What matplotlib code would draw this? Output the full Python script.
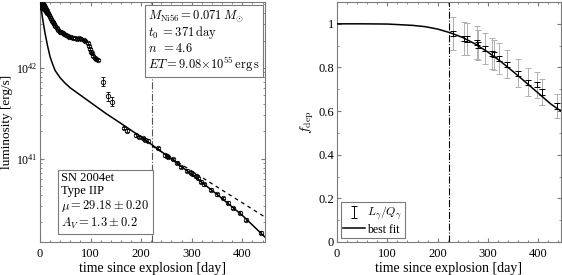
import numpy as np
import matplotlib
matplotlib.use('Agg')
import matplotlib.pyplot as plt

plt.rcParams['font.family'] = ['Liberation Serif', 'DejaVu Serif']
plt.rcParams['mathtext.fontset'] = 'cm'
plt.rcParams['font.size'] = 9

# observed bolometric light curve (day, log10 L)
obs_day = [2, 3, 4, 5, 6, 7, 8, 9, 10, 11, 12, 13, 14, 16, 18, 20, 22, 24, 26, 28,
           30, 33, 36, 39, 42, 45, 48, 52, 55, 58, 62, 66, 70, 74, 78, 82, 86, 89,
           95, 97, 99, 101, 103, 105, 108, 111, 114,
           125, 135, 143,
           167, 172, 189, 195, 203, 208, 213, 233, 248, 252, 254, 262, 270, 278,
           290, 298, 303, 308, 312, 318, 325, 338, 350, 362, 372, 382, 395, 408, 437]
obs_logL = [42.70, 42.66, 42.72, 42.68, 42.70, 42.65, 42.69, 42.64, 42.67, 42.62,
            42.65, 42.60, 42.63, 42.60, 42.58, 42.56, 42.54, 42.52, 42.50, 42.48,
            42.46, 42.44, 42.42, 42.40, 42.39, 42.38, 42.37, 42.36, 42.35, 42.34,
            42.34, 42.33, 42.33, 42.32, 42.33, 42.32, 42.31, 42.30,
            42.27, 42.24, 42.21, 42.18, 42.16, 42.13, 42.11, 42.10, 42.09,
            41.85, 41.69, 41.63,
            41.34, 41.31, 41.26, 41.24, 41.23, 41.21, 41.20, 41.12, 41.04, 41.03,
            41.02, 41.00, 40.96, 40.91, 40.87, 40.85, 40.83, 40.81, 40.79, 40.75,
            40.72, 40.66, 40.61, 40.57, 40.52, 40.46, 40.41, 40.33, 40.19]
obs_err = [0.012] * 47 + [0.05, 0.05, 0.05] + [0.015] * 29

# model light curve (best fit) and full trapping
model_day = [0, 3, 6, 10, 15, 20, 25, 30, 40, 50, 60, 80, 100, 130, 160, 200,
             250, 300, 350, 400, 445]
model_logL = [42.74, 42.62, 42.51, 42.38, 42.24, 42.12, 42.04, 41.97, 41.89, 41.83,
              41.78, 41.70, 41.62, 41.50, 41.39, 41.24, 41.04, 40.83, 40.61, 40.38,
              40.14]
trap_day = [222, 445]
trap_logL = [41.14, 40.36]

t_cut = 222

# deposition fraction
dep_day = [230, 252, 259, 278, 281, 294, 307, 311, 321, 337, 360, 379, 397, 407, 437]
dep_f = [0.956, 0.933, 0.930, 0.915, 0.903, 0.888, 0.865, 0.858, 0.840, 0.815,
         0.774, 0.732, 0.721, 0.688, 0.623]
dep_err = [0.012] * 15
dep_err_sys = [0.075, 0.075, 0.075, 0.075, 0.07, 0.07, 0.07, 0.07, 0.07, 0.065,
               0.065, 0.065, 0.06, 0.06, 0.055]

fit_day = [0, 50, 100, 150, 175, 200, 225, 250, 275, 300, 325, 350, 375, 400, 425, 445]
fit_f = [1.0, 1.0, 0.999, 0.993, 0.987, 0.976, 0.959, 0.937, 0.907, 0.870, 0.828,
         0.781, 0.732, 0.682, 0.632, 0.600]

grey = '#7a7a7a'
fig = plt.figure(figsize=(5.62, 2.75), dpi=100)
ax1 = fig.add_axes([0.0712, 0.12, 0.4004, 0.8727])
ax2 = fig.add_axes([0.5996, 0.12, 0.3986, 0.8727])

for ax in (ax1, ax2):
    for s in ax.spines.values():
        s.set_color(grey)
        s.set_linewidth(0.8)
    ax.tick_params(which='both', direction='in', top=True, right=True, color=grey,
                   labelsize=9)
    ax.tick_params(axis='y', pad=2)
    ax.tick_params(axis='x', pad=4)
    ax.tick_params(which='major', length=3)
    ax.tick_params(which='minor', length=1.5)
    ax.set_xlim(0, 445)
    ax.set_xticks([0, 100, 200, 300, 400])
    ax.set_xlabel('time since explosion [day]', fontsize=10, labelpad=2)

# left panel
L = 10 ** np.array(obs_logL)
lo = L - 10 ** (np.array(obs_logL) - np.array(obs_err))
hi = 10 ** (np.array(obs_logL) + np.array(obs_err)) - L
ax1.errorbar(obs_day, L, yerr=[lo, hi], fmt='o', mfc='none', mec='k', ecolor='k',
             ms=3.2, mew=0.6, elinewidth=0.6, capsize=1.5, capthick=0.6, zorder=3)
ax1.plot(model_day, 10 ** np.array(model_logL), 'k-', lw=1.1, zorder=4)
ax1.plot(trap_day, 10 ** np.array(trap_logL), 'k--', lw=0.9, dashes=(3, 3), zorder=4)
ax1.axvline(t_cut, color='#555555', ls='-.', lw=0.8)
ax1.set_yscale('log')
ax1.set_ylim(1.22e40, 5.3e42)
ax1.set_yticks([1e41, 1e42])
ax1.tick_params(axis='y', labelsize=8.5, pad=1.5)
ax1.set_ylabel('luminosity [erg/s]', fontsize=9.5, labelpad=0)
ax1.yaxis.set_label_coords(-0.118, 0.5)
ax1.minorticks_on()
ax1.xaxis.set_minor_locator(matplotlib.ticker.MultipleLocator(20))

txt1 = '\n'.join([r'$M_{\rm Ni56} = 0.071\,M_{\odot}$',
                  r'$t_0\;=371\,{\rm day}$',
                  r'$n\;\;=4.6$',
                  r'$ET=9.08{\times}10^{55}\,{\rm erg\,s}$'])
ax1.text(0.48, 0.975, txt1, transform=ax1.transAxes, va='top', ha='left', fontsize=9,
         linespacing=1.05,
         bbox=dict(boxstyle='square,pad=0.25', fc='white', ec=grey, lw=0.8))
txt2 = '\n'.join([r'SN 2004et', r'Type IIP',
                  r'$\mu=29.18\pm0.20$', r'$A_V=1.3\pm0.2$'])
ax1.text(0.095, 0.29, txt2, transform=ax1.transAxes, va='top', ha='left', fontsize=9,
         linespacing=1.1,
         bbox=dict(boxstyle='square,pad=0.3', fc='white', ec=grey, lw=0.8))

# right panel
ax2.errorbar(dep_day, dep_f, yerr=dep_err_sys, fmt='none', ecolor='#b0b0b0',
             elinewidth=0.7, capsize=2, capthick=0.7, zorder=2)
eb = ax2.errorbar(dep_day, dep_f, yerr=dep_err, fmt='none', ecolor='k',
                  elinewidth=0.7, capsize=2, capthick=0.7, zorder=3)
fit_line, = ax2.plot(fit_day, fit_f, 'k-', lw=1.1, zorder=4)
ax2.axvline(t_cut, color='k', ls='-.', lw=0.8)
ax2.set_ylim(0, 1.1)
ax2.set_yticks([0, 0.2, 0.4, 0.6, 0.8, 1])
ax2.set_yticklabels(['0', '0.2', '0.4', '0.6', '0.8', '1'])
ax2.set_ylabel(r'$f_{\rm dep}$', fontsize=10, labelpad=2)
ax2.xaxis.set_minor_locator(matplotlib.ticker.MultipleLocator(20))
ax2.yaxis.set_minor_locator(matplotlib.ticker.MultipleLocator(0.1))
leg = ax2.legend([eb, fit_line], [r'$L_\gamma/Q_\gamma$', 'best fit'],
                 loc='lower left', fontsize=8.5, handlelength=1.8, handletextpad=0.2,
                 borderpad=0.25, labelspacing=0.1, fancybox=False, framealpha=1,
                 borderaxespad=0.3)
leg.get_frame().set_edgecolor(grey)
leg.get_frame().set_linewidth(0.8)

fig.savefig('out.png', dpi=100)
